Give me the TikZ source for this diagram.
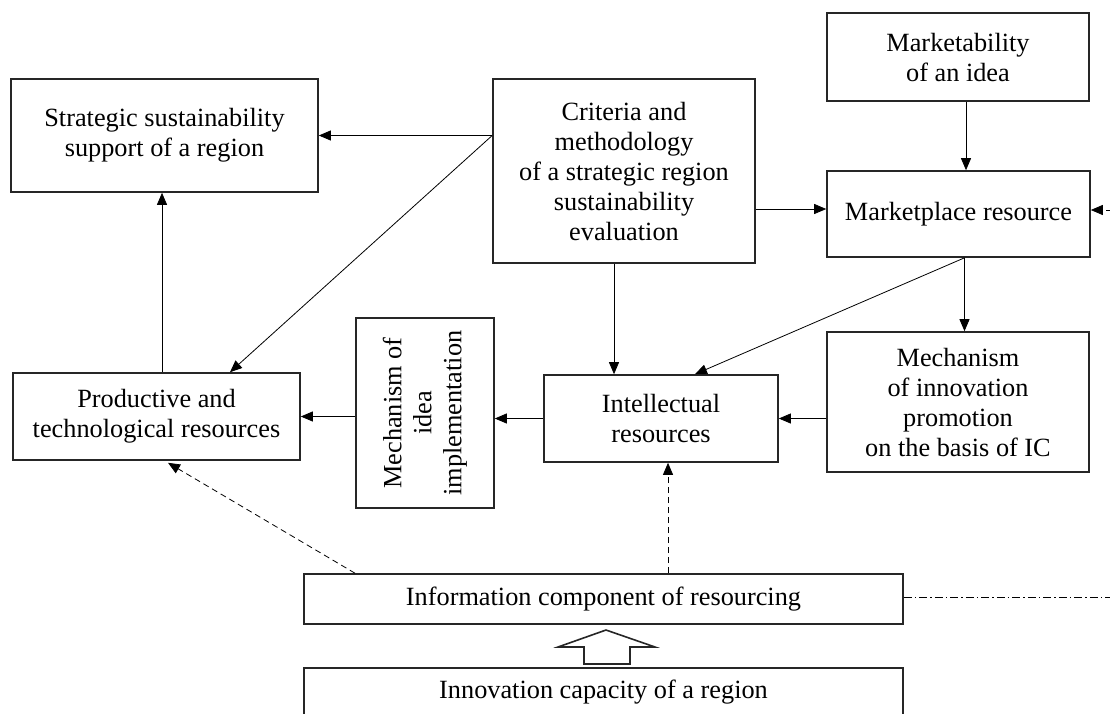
\documentclass[tikz,border=0pt]{standalone}
\usepackage{fontspec}
\setmainfont{Liberation Serif}
\usetikzlibrary{arrows.meta,calc}
\begin{document}
\begin{tikzpicture}[x=1pt,y=-1pt,
  txt/.style={font=\fontsize{26.3}{30}\selectfont,align=center},
  box/.style={txt,draw=black!85,line width=1.6pt,inner sep=0pt},
  arr/.style={line width=0.8pt,-{Triangle[length=12pt,width=10pt]}},
  dsh/.style={arr,dash pattern=on 6pt off 4pt},
  dashdot/.style={line width=0.8pt,dash pattern=on 8pt off 3pt on 1.5pt off 3pt}]
\useasboundingbox (0,0) rectangle (1110,713);
\clip (0,0) rectangle (1110,713);
\node[box,minimum width=307pt,minimum height=113pt] (strat) at (164.5,135.5) {Strategic sustainability\\support of a region};
\node[box,minimum width=262pt,minimum height=184pt] (crit) at (624,171) {Criteria and\\methodology\\of a strategic region\\sustainability\\evaluation};
\node[box,minimum width=262pt,minimum height=88pt] (mkt) at (958,57) {Marketability\\of an idea};
\node[box,minimum width=263pt,minimum height=86pt] (place) at (958.5,214) {Marketplace resource};
\node[box,minimum width=262pt,minimum height=140pt] (minno) at (958,402) {Mechanism\\of innovation\\promotion\\on the basis of IC};
\node[box,minimum width=234pt,minimum height=87pt] (intel) at (661,418.5) {Intellectual\\resources};
\node[box,minimum width=138pt,minimum height=190pt] (midea) at (425,413) {};
\node[txt,rotate=90] (mideatext) at (midea.center) {Mechanism of\\idea\\implementation};
\node[box,minimum width=287pt,minimum height=87pt] (prod) at (156.5,416.5) {Productive and\\technological resources};
\node[box,minimum width=599pt,minimum height=50pt] (info) at (603.5,599) {Information component of resourcing};
\node[box,minimum width=599pt,minimum height=48pt] (cap) at (603.5,692) {Innovation capacity of a region};
% connectors
\coordinate (cl) at (crit.west |- strat.east);
\draw[arr] (cl) -- (strat.east);
\draw[arr] (cl) -- ([xshift=73.5pt]prod.north);
\coordinate (pl) at ([yshift=5pt]place.west);
\draw[arr] (crit.east |- pl) -- (pl);
\draw[arr] ([xshift=-10pt]crit.south) -- ([xshift=-10pt]crit.south |- intel.north);
\draw[arr] ([xshift=8pt]mkt.south) -- ([xshift=8pt]mkt.south |- place.north);
\coordinate (ps) at ([xshift=6pt]place.south);
\draw[arr] (ps) -- (ps |- minno.north);
\draw[arr] (ps) -- ([xshift=34pt]intel.north);
\draw[arr] (minno.west |- intel.east) -- (intel.east);
\draw[arr] (intel.west) -- (intel.west -| midea.east);
\draw[arr] (midea.west |- prod.east) -- (prod.east);
\draw[arr] ([xshift=5.5pt]prod.north) -- ([xshift=5.5pt]prod.north |- strat.south);
\draw[dsh] ([xshift=-248.5pt]info.north) -- ([xshift=11.5pt,yshift=-2pt]prod.south);
\draw[dsh] ([xshift=7pt]intel.south |- info.north) -- ([xshift=7pt]intel.south);
\coordinate (rin) at (1112,210);
\draw[dsh] (rin) -- (rin -| place.east);
\coordinate (rout) at (1112,597);
\draw[dashdot] (info.east |- rout) -- (rout);
% hollow arrow from capacity to info
\draw[line width=1.6pt,draw=black!85,fill=white] (584,664) -- (584,647) -- (558,647) -- (606,630) -- (655,647) -- (630,647) -- (630,664) -- cycle;
\end{tikzpicture}
\end{document}
